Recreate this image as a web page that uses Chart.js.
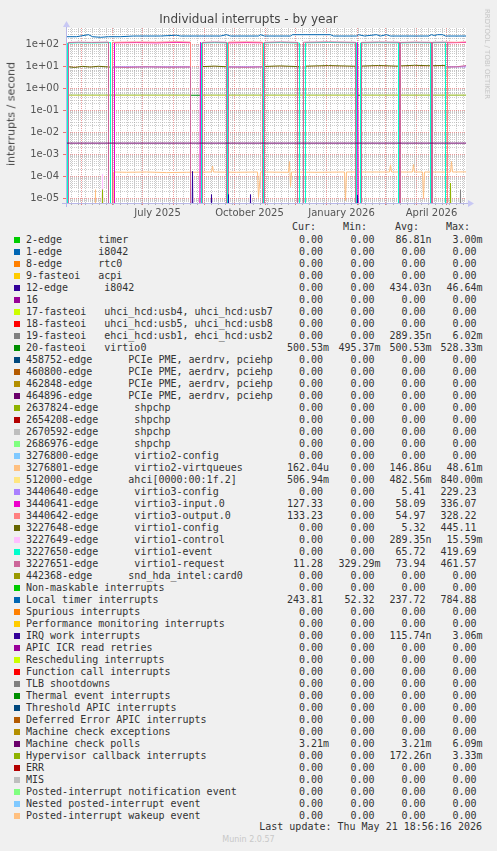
<!DOCTYPE html>
<html>
<head>
<meta charset="utf-8">
<script src="https://cdn.jsdelivr.net/npm/chart.js@4.4.1/dist/chart.umd.min.js"></script>
<style>
body{margin:0;background:#f0f0f0;width:497px;height:851px;overflow:hidden;position:relative;font-family:"DejaVu Sans",sans-serif}
#wrap{position:absolute;left:0;top:0;width:497px;height:220px}
#title{position:absolute;left:0;width:497px;top:11px;text-align:center;font-size:12px;color:#444;line-height:16px}
#ylab{position:absolute;left:11px;top:114px;transform:translate(-50%,-50%) rotate(-90deg);font-size:11px;color:#444;white-space:nowrap}
#rrd{position:absolute;left:487px;top:54px;transform:translate(-50%,-50%) rotate(90deg);font-size:7px;color:#c4c4c4;white-space:nowrap}
.row{position:absolute;left:0;width:497px;height:12px;line-height:12px;font-family:"DejaVu Sans Mono",monospace;font-size:10px;color:#333;white-space:pre}
.row span{position:absolute;top:0}
.sw{width:6px;height:6px;top:3px !important;left:14px}
#upd{position:absolute;right:15px;top:821px;font-family:"DejaVu Sans Mono",monospace;font-size:10px;color:#333;line-height:12px}
#munin{position:absolute;left:0;width:497px;text-align:center;top:835px;font-size:8px;color:#c8c8c8}
</style>
</head>
<body>
<div id="wrap"><canvas id="c" width="497" height="220"></canvas></div>
<div id="title">Individual interrupts - by year</div>
<div id="ylab">interrupts / second</div>
<div id="rrd">RRDTOOL / TOBI OETIKER</div>
<div id="legend"></div>
<div id="upd">Last update: Thu May 21 18:56:16 2026</div>
<div id="munin">Munin 2.0.57</div>
<script>
// legend rows
const names = [
  '2-edge      timer', '1-edge      i8042', '8-edge      rtc0', '9-fasteoi   acpi',
  '12-edge      i8042', '16', '17-fasteoi   uhci_hcd:usb4, uhci_hcd:usb7',
  '18-fasteoi   uhci_hcd:usb5, uhci_hcd:usb8', '19-fasteoi   ehci_hcd:usb1, ehci_hcd:usb2',
  '20-fasteoi   virtio0',
  '458752-edge      PCIe PME, aerdrv, pciehp', '460800-edge      PCIe PME, aerdrv, pciehp',
  '462848-edge      PCIe PME, aerdrv, pciehp', '464896-edge      PCIe PME, aerdrv, pciehp',
  '2637824-edge      shpchp', '2654208-edge      shpchp', '2670592-edge      shpchp', '2686976-edge      shpchp',
  '3276800-edge      virtio2-config', '3276801-edge      virtio2-virtqueues',
  '512000-edge      ahci[0000:00:1f.2]', '3440640-edge      virtio3-config',
  '3440641-edge      virtio3-input.0', '3440642-edge      virtio3-output.0',
  '3227648-edge      virtio1-config', '3227649-edge      virtio1-control',
  '3227650-edge      virtio1-event', '3227651-edge      virtio1-request',
  '442368-edge      snd_hda_intel:card0',
  'Non-maskable interrupts', 'Local timer interrupts', 'Spurious interrupts',
  'Performance monitoring interrupts', 'IRQ work interrupts', 'APIC ICR read retries',
  'Rescheduling interrupts', 'Function call interrupts', 'TLB shootdowns',
  'Thermal event interrupts', 'Threshold APIC interrupts', 'Deferred Error APIC interrupts',
  'Machine check exceptions', 'Machine check polls', 'Hypervisor callback interrupts',
  'ERR', 'MIS', 'Posted-interrupt notification event', 'Nested posted-interrupt event',
  'Posted-interrupt wakeup event'
];
const colors = [
  '#00CC00','#0066B3','#FF8000','#FFCC00','#330099','#990099','#CCFF00','#FF0000','#808080',
  '#008F00','#00487D','#B35A00','#B38F00','#6B006B','#8FB300','#B30000','#BEBEBE','#80FF80',
  '#80C9FF','#FFC080','#FFE680','#AA80FF','#EE00CC','#FF8080','#666600','#FFBFFF','#00FFCC',
  '#CC6699','#999900',
  '#00CC00','#0066B3','#FF8000','#FFCC00','#330099','#990099','#CCFF00','#FF0000','#808080',
  '#008F00','#00487D','#B35A00','#B38F00','#6B006B','#8FB300','#B30000','#BEBEBE','#80FF80',
  '#80C9FF','#FFC080'
];
const Z = '0.00';
const curVals = [Z,Z,Z,Z,Z,Z,Z,Z,Z,'500.53m',Z,Z,Z,Z,Z,Z,Z,Z,Z,'162.04u','506.94m',Z,'127.33','133.23',Z,Z,Z,'11.28',Z,
  Z,'243.81',Z,Z,Z,Z,Z,Z,Z,Z,Z,Z,Z,'3.21m',Z,Z,Z,Z,Z,Z];
const minVals = [Z,Z,Z,Z,Z,Z,Z,Z,Z,'495.37m',Z,Z,Z,Z,Z,Z,Z,Z,Z,Z,Z,Z,Z,Z,Z,Z,Z,'329.29m',Z,
  Z,'52.32',Z,Z,Z,Z,Z,Z,Z,Z,Z,Z,Z,Z,Z,Z,Z,Z,Z,Z];
const avgVals = ['86.81n',Z,Z,Z,'434.03n',Z,Z,Z,'289.35n','500.53m',Z,Z,Z,Z,Z,Z,Z,Z,Z,'146.86u','482.56m','5.41','58.09','54.97','5.32','289.35n','65.72','73.94',Z,
  Z,'237.72',Z,Z,'115.74n',Z,Z,Z,Z,Z,Z,Z,Z,'3.21m','172.26n',Z,Z,Z,Z,Z];
const maxVals = ['3.00m',Z,Z,Z,'46.64m',Z,Z,Z,'6.02m','528.33m',Z,Z,Z,Z,Z,Z,Z,Z,Z,'48.61m','840.00m','229.23','336.07','328.22','445.11','15.59m','419.69','461.57',Z,
  Z,'784.88',Z,Z,'3.06m',Z,Z,Z,Z,Z,Z,Z,Z,'6.09m','3.33m',Z,Z,Z,Z,Z];

// x axis: days since 2025-04-16 (400 days to 2026-05-21)
const monthStartDays = [15,46,76,107,138,168,199,229,260,291,319,350,380];
const xLabelDays = [91,183,275,365];
const xLabels = ['July 2025','October 2025','January 2026','April 2026'];
const firstMonday = 5;

// series points [day, value]
const timer2edge = [[0,0],[47,0],[48,1.3e-5],[49,0],[400,0]];
const fasteoi19 = [[0,0],[393,0],[394,2.5e-5],[395,0],[400,0]];
const virtio0 = [[0,0.5],[400,0.5]];
const virtio2Queues = [[0,0],[28,0],[29,2.5e-5],[30,0],[47,0],[47,1.6e-4],[60,1.55e-4],[80,1.6e-4],[100,1.5e-4],[120,1.55e-4],
  [145,1.6e-4],[146,3e-4],[147,1.6e-4],[170,1.55e-4],[191,1.6e-4],[192,1.1e-5],[194,1.6e-4],[222,1.55e-4],[223,4.8e-4],
  [224,3.5e-5],[225,1.6e-4],[250,1.55e-4],[278,1.6e-4],[279,8e-6],[280,1.6e-4],[323,1.6e-4],[324,3.4e-4],[325,1.6e-4],
  [346,1.6e-4],[347,3.5e-4],[348,1.6e-4],[356,1.6e-4],[357,1e-5],[358,1.6e-4],[384,1.6e-4],[385,4.8e-4],[386,1.6e-4],[400,1.62e-4]];
const ahci = [[0,0.5],[124,0.5],[124,0],[135,0],[135,0.5],[289,0.5],[289,0],[294,0],[294,0.5],[400,0.507]];
const virtio3Config = [[0,0],[46,0],[46,9.8],[124,9.8],[124,0],[162,0],[162,9.8],[196,9.8],[196,0],[381,0],[381,9.8],[400,9.8]];
const virtio3Input = [[0,0],[48,0],[48,122],[70,125],[90,121],[110,127],[124,123],[124,0],[133,0],[134,130],[135,0],
  [162,0],[162,121],[180,125],[196,122],[196,0],[290,0],[291,128],[292,0],[381,0],[381,122],[390,124],[400,127]];
const virtio3Output = [[0,0],[46,0],[46,128],[70,132],[90,129],[110,135],[124,130],[124,0],[162,0],[162,130],[180,133],[196,129],[196,0],
  [381,0],[381,130],[390,128],[400,133]];
const virtio1Config = [[0,0],[1,0],[1,10],[8,9.2],[16,10.3],[24,9.6],[32,10.4],[44,9.5],[44,0],[135,0],[135,10],[148,10.6],[161,9.8],[161,0],
  [197,0],[197,10.2],[214,10.8],[233,10],[233,0],[239,0],[239,10.5],[262,11.2],[290,10.4],[290,0],[294,0],[294,10.6],[312,11.3],[332,10.5],[332,0],
  [333,0],[333,10.8],[348,11.5],[364,11],[364,0],[365,0],[365,11],[379,11.4],[379,0],[400,0]];
const virtio1Control = [[0,0],[35,0],[36,1.3e-4],[37,0],[400,0]];
const virtio1Event = [[0,0],[1,0],[1,118],[12,122],[25,120],[44,124],[44,0],[135,0],[135,120],[148,124],[161,121],[161,0],
  [197,0],[197,121],[214,125],[233,119],[233,0],[239,0],[239,122],[262,126],[290,121],[290,0],[294,0],[294,120],[312,124],[332,121],[332,0],
  [333,0],[333,120],[348,124],[364,121],[364,0],[365,0],[365,122],[379,125],[379,0],[400,0]];
const virtio1Request = [[0,0],[2,0],[2,126],[12,130],[25,127],[42,131],[42,0],[46,0],[46,9.5],[60,9.2],[80,9.8],[100,9.4],[124,9.6],[124,0],
  [136,0],[136,127],[148,132],[160,128],[160,0],[162,0],[162,9.6],[180,9.3],[196,9.8],[196,0],[198,0],[198,128],[214,133],[231,127],[231,0],
  [237,0],[237,129],[262,134],[289,128],[289,0],[295,0],[295,127],[312,132],[333,129],[333,0],[334,0],[334,127],[348,131],[365,128],[365,0],
  [366,0],[366,129],[381,131],[381,9.6],[390,9.8],[400,11.3]];
const localTimer = [[0,231],[10,231],[22,285],[26,231],[34,217],[42,231],[54,231],[67,248],[94,248],[110,270],[114,248],[154,248],[160,285],
  [164,248],[192,248],[194,285],[198,248],[224,248],[226,285],[264,285],[267,248],[290,248],[292,285],[298,248],[310,285],[314,248],
  [320,285],[324,248],[362,248],[365,285],[368,260],[371,285],[376,285],[379,248],[400,248]];
const irqWork = [[0,0],[125,0],[126,1.7e-4],[127,0],[144,0],[145,1.5e-5],[146,0],[161,0],[162,1.5e-5],[163,0],
  [183,0],[184,1.5e-5],[185,0],[290,0],[291,1.4e-5],[292,0],[400,0]];
const mcePolls = [[0,3.3e-3],[400,3.3e-3]];
const hypervisor = [[0,0],[35,0],[36,2.5e-5],[37,0],[383,0],[384,5e-5],[385,0],[400,0]];

const seriesIndex = [0, 8, 9, 19, 20, 21, 22, 23, 24, 25, 26, 27, 30, 33, 42, 43];
const seriesPoints = [timer2edge, fasteoi19, virtio0, virtio2Queues, ahci, virtio3Config, virtio3Input, virtio3Output,
  virtio1Config, virtio1Control, virtio1Event, virtio1Request, localTimer, irqWork, mcePolls, hypervisor];

// legend html
const legend = document.getElementById('legend');
const numRight = [323, 374.5, 425.5, 476.5];
const headRight = [316, 367, 419, 470];
const heads = ['Cur:', 'Min:', 'Avg:', 'Max:'];
let h = '<div class="row" style="top:221px">';
heads.forEach((t, k) => { h += '<span style="right:' + (497 - headRight[k]) + 'px">' + t + '</span>'; });
h += '</div>';
names.forEach((n, i) => {
  h += '<div class="row" style="top:' + (234 + 12 * i) + 'px">';
  h += '<span class="sw" style="background:' + colors[i] + '"></span>';
  h += '<span style="left:26px">' + n + '</span>';
  [curVals[i], minVals[i], avgVals[i], maxVals[i]].forEach((v, k) => {
    const m = v.match(/^([\d.]+)([a-zA-Z]?)$/);
    h += '<span style="right:' + (497 - numRight[k]) + 'px">' + m[1] + '</span>';
    if (m[2]) h += '<span style="left:' + numRight[k] + 'px">' + m[2] + '</span>';
  });
  h += '</div>';
});
legend.innerHTML = h;

// chart
const datasets = seriesIndex.map((idx, k) => ({
  label: names[idx],
  data: seriesPoints[k].map(p => ({x: p[0], y: p[1] > 0 ? p[1] : 1e-9})),
  borderColor: colors[idx],
  borderWidth: 1,
  pointRadius: 0,
  fill: false,
  tension: 0,
  clip: 0
})).reverse();

const yMin = 6.2e-6, yMax = 575;

const plotBg = {
  id: 'plotBg',
  beforeDraw(chart) {
    const a = chart.chartArea, c = chart.ctx;
    c.save();
    c.fillStyle = '#ffffff';
    c.fillRect(a.left, a.top, a.right - a.left, a.bottom - a.top);
    c.restore();
  }
};
const axes = {
  id: 'axes',
  afterDraw(chart) {
    const a = chart.chartArea, c = chart.ctx;
    c.save();
    c.strokeStyle = '#b8b8e8';
    c.fillStyle = '#c8c8f4';
    c.lineWidth = 1;
    c.beginPath();
    c.moveTo(a.left - 4, a.bottom + 0.5); c.lineTo(a.right + 4, a.bottom + 0.5);
    c.moveTo(a.left + 0.5, a.bottom + 4); c.lineTo(a.left + 0.5, a.top - 3);
    c.stroke();
    c.beginPath();
    c.moveTo(a.right + 2, a.bottom - 3); c.lineTo(a.right + 8, a.bottom + 0.5); c.lineTo(a.right + 2, a.bottom + 4); c.closePath();
    c.fill();
    c.beginPath();
    c.moveTo(a.left - 3, a.top - 1); c.lineTo(a.left + 0.5, a.top - 7); c.lineTo(a.left + 4, a.top - 1); c.closePath();
    c.fill();
    c.restore();
  }
};

const majorX = new Set(monthStartDays);
const labelX = new Set(xLabelDays);

new Chart(document.getElementById('c'), {
  type: 'line',
  data: { datasets },
  options: {
    responsive: false,
    animation: false,
    devicePixelRatio: 1,
    layout: { padding: { left: 0, top: 28, right: 31, bottom: 0 } },
    plugins: { legend: { display: false }, tooltip: { enabled: false } },
    scales: {
      x: {
        type: 'linear', min: -0.5, max: 399.5,
        afterFit(s) { s.height = 17; },
        afterBuildTicks(s) {
          const t = [];
          for (let d = firstMonday; d < 400; d += 7) if (!majorX.has(d)) t.push(d);
          monthStartDays.forEach(d => t.push(d));
          xLabelDays.forEach(d => t.push(d));
          t.sort((p, q) => p - q);
          s.ticks = t.map(v => ({ value: v }));
        },
        ticks: {
          autoSkip: false, maxRotation: 0, padding: 2,
          font: { family: 'DejaVu Sans', size: 10 }, color: '#555',
          callback: v => { const i = xLabelDays.indexOf(v); return i >= 0 ? xLabels[i] : ''; }
        },
        grid: {
          color: c => labelX.has(c.tick.value) ? 'rgba(0,0,0,0)' : (majorX.has(c.tick.value) ? 'rgba(225,90,90,0.6)' : 'rgba(150,150,150,0.5)'),
          tickColor: c => labelX.has(c.tick.value) ? 'rgba(0,0,0,0)' : (majorX.has(c.tick.value) ? 'rgba(225,90,90,0.8)' : 'rgba(150,150,150,0.7)'),
          tickLength: 2, lineWidth: 1
        },
        border: { display: false, dash: [1, 1] }
      },
      y: {
        type: 'logarithmic', min: yMin, max: yMax,
        afterFit(s) { s.width = 66; },
        afterBuildTicks(s) {
          const t = [];
          for (let k = -6; k <= 2; k++) for (let m = 1; m <= 9; m++) {
            const v = m * Math.pow(10, k);
            if (v >= yMin && v <= yMax) t.push({ value: v, major: m === 1 });
          }
          s.ticks = t;
        },
        ticks: {
          autoSkip: false, padding: 4,
          font: { family: 'DejaVu Sans', size: 10 }, color: '#555',
          callback: function (v, i, t) {
            if (!t[i].major) return '';
            const e = Math.round(Math.log10(v));
            return '1e' + (e < 0 ? '-' : '+') + String(Math.abs(e)).padStart(2, '0');
          }
        },
        grid: {
          color: c => c.tick.major ? 'rgba(225,90,90,0.6)' : 'rgba(150,150,150,0.5)',
          tickColor: c => c.tick.major ? 'rgba(225,90,90,0.8)' : 'rgba(0,0,0,0)',
          tickLength: 3, lineWidth: 1
        },
        border: { display: false, dash: [1, 1] }
      }
    }
  },
  plugins: [plotBg, axes]
});
</script>
</body>
</html>
